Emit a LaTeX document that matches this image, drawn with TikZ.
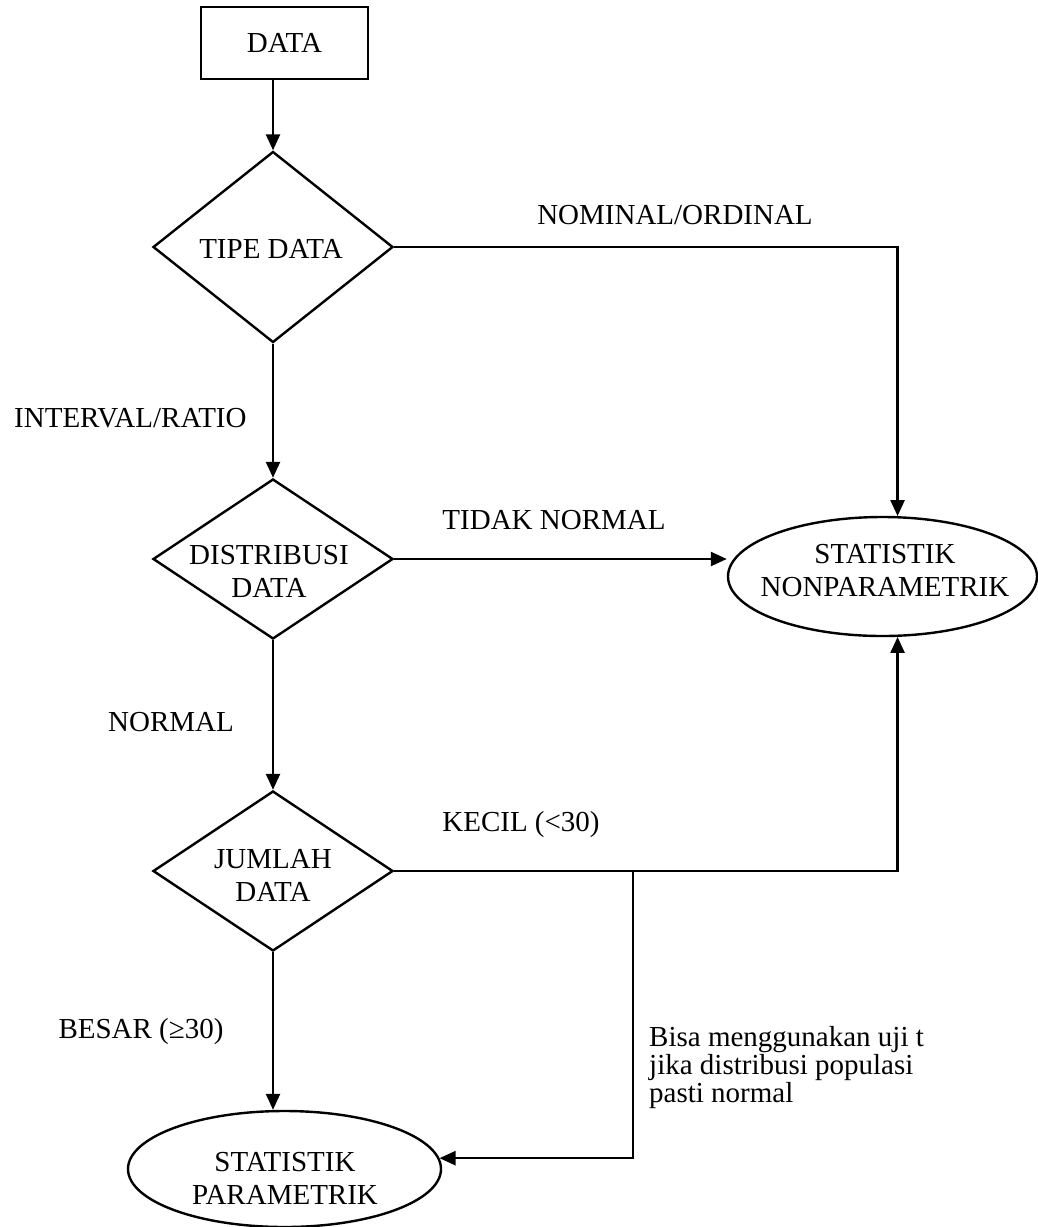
\documentclass[tikz,border=0pt]{standalone}
\usepackage{fontspec}
\setmainfont{Liberation Serif}
\usepackage{tikz}
\usetikzlibrary{positioning}
\usetikzlibrary{arrows.meta,shapes.geometric}
\tikzset{edge/.style = {->,> = {Triangle[length=8pt,width=7pt]}}}

\begin{document}
\begin{tikzpicture}[x=0.5pt,y=-0.5pt,line width=1.2pt,
        every node/.style={font=\fontsize{14.5}{16.5}\selectfont},
        start node/.style={rectangle,draw,minimum width=83.5pt,minimum height=36pt},
        decision node/.style={diamond,draw,inner sep=0pt,minimum width=120pt},
        result node/.style={ellipse,draw,inner sep=0pt},
        text node/.style={inner sep=0pt,align=center},
        tag node/.style={inner sep=0pt}]
                \useasboundingbox (0,0) rectangle (1038,1227);

                \node[start node] (data) at (284.5,43) {DATA};
                \node[decision node,minimum height=95.5pt] (tipe) at (273,247) {};
                \node[decision node,minimum height=80pt] (dist) at (273,559) {};
                \node[decision node,minimum height=80pt] (jumlah) at (273,871) {};
                \node[result node,minimum width=154.5pt,minimum height=59.5pt] (nonpar) at (882.5,576.5) {};
                \node[result node,minimum width=156.5pt,minimum height=58pt] (par) at (284.5,1169) {};
                \coordinate (split) at (633,871);

                \node[text node] (tipe text) at (271,249) {TIPE DATA};
                \node[text node] (dist text) at (269,571) {DISTRIBUSI\\DATA};
                \node[text node] (jumlah text) at (273,875) {JUMLAH\\DATA};
                \node[text node] (nonpar text) at (885,571) {STATISTIK\\NONPARAMETRIK};
                \node[text node] (par text) at (285,1178) {STATISTIK\\PARAMETRIK};

                \node[tag node] (nominal) at (675,215) {NOMINAL/ORDINAL};
                \node[tag node,anchor=west] (interval) at (13,418) {INTERVAL/RATIO};
                \node[tag node] (tidak) at (554,520) {TIDAK NORMAL};
                \node[tag node] (normal) at (171,722) {NORMAL};
                \node[tag node] (kecil) at (521,825) {KECIL (<30)};
                \node[tag node] (besar) at (141,1032) {BESAR (≥30)};
                \node[tag node,anchor=west,align=left,font=\fontsize{14.5}{14}\selectfont] (catatan) at (648,1068) {Bisa menggunakan uji t\\jika distribusi populasi\\pasti normal};

                \draw[edge] (tipe.north |- data.south) -- (tipe.north);
                \draw[edge] (tipe.east) -| (nonpar.76);
                \draw[edge] (tipe.south) -- (dist.north);
                \draw[edge] (dist.east) -- (dist.east -| nonpar.west);
                \draw[edge] (dist.south) -- (jumlah.north);
                \draw[edge] (jumlah.east) -| (nonpar.-76);
                \draw[edge] (jumlah.south) -- (jumlah.south |- par.north);
                \draw[edge] (split) |- (par.4);
            \end{tikzpicture}
\end{document}
